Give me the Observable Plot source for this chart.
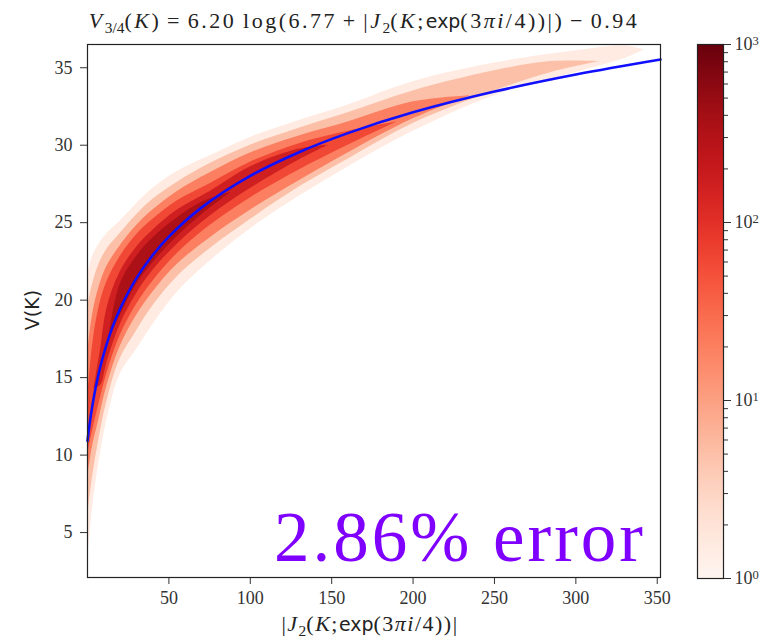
<!DOCTYPE html>
<html>
<head>
<meta charset="utf-8">
<script src="https://cdn.jsdelivr.net/npm/d3@7"></script>
<script src="https://cdn.jsdelivr.net/npm/@observablehq/plot@0.6"></script>
<style>
  html, body { margin: 0; padding: 0; background: white; }
  #wrap { position: relative; width: 761px; height: 641px; overflow: hidden; background: white; }
  #main, #cbar { position: absolute; top: 0; }
  #main { left: 0; }
  #cbar { left: 680px; }
  .lbl { position: absolute; white-space: nowrap; font-family: "Liberation Serif", serif; color: #222; }
  .sub { font-size: 70%; position: relative; top: 0.3em; letter-spacing: 0; }
  .sans { font-family: "DejaVu Sans", sans-serif; font-size: 86%; letter-spacing: 0; }
  .op { margin: 0 0.26em; }
</style>
</head>
<body>
<div id="wrap">
  <div id="main"></div>
  <div id="cbar"></div>
  <div class="lbl" id="title" style="font-size:22px; letter-spacing:2.5px; left:-10px; width:748px; text-align:center; top:8px;">
    <i>V</i><span class="sub">3/4</span>(<i>K</i>)<span class="op">=</span>6.20&thinsp;log(6.77<span class="op">+</span>|<i>J</i><span class="sub">2</span>(<i>K</i>;<span class="sans">exp</span>(3<i>πi</i>/4))|)<span class="op">−</span>0.94
  </div>
  <div class="lbl" id="xlabel" style="font-size:22px; letter-spacing:1.5px; left:-4px; width:748px; text-align:center; top:611px;">
    |<i>J</i><span class="sub">2</span>(<i>K</i>;<span class="sans">exp</span>(3<i>πi</i>/4))|
  </div>
  <div class="lbl" id="ylabel" style="font-family:'DejaVu Sans',sans-serif; font-size:19px; left:32px; top:310px; transform:translate(-50%,-50%) rotate(-90deg);">V(K)</div>
  <div class="lbl" id="err" style="font-size:71px; letter-spacing:3px; color:#7f00ff; right:115px; top:502px; line-height:1;">2.86% error</div>
</div>
<script>
// ---- data ----
const xTicks = [50, 100, 150, 200, 250, 300, 350];
const yTicks = [5, 10, 15, 20, 25, 30, 35];
const cbTicks = [1, 10, 100, 1000];

// fitted curve V(K)
const curveX = [0, 1, 2, 3.5, 5, 7.5, 10, 15, 20, 30, 40, 50, 70, 100, 130, 160, 200, 250, 300, 352];
const curveY = [10.92, 11.77, 12.52, 13.50, 14.35, 15.54, 16.54, 18.16, 19.44, 21.41, 22.90, 24.10, 25.97, 28.02, 29.55, 30.78, 32.12, 33.46, 34.56, 35.53];

// density contour bands: [x, lower V, upper V] for each count level
const levels = [1.5, 5, 20, 60, 160, 350];
const band1 = [[0,3,21.5],[3,6.5,22.8],[7,9.5,23.6],[12,12.3,24.3],[20,15.2,25.1],[30,16.8,26.2],[40,18.4,27.2],[55,20.5,28.3],[75,22.5,29.3],[100,24.6,30.5],[130,26.7,31.6],[160,28.6,32.6],[200,30.9,34.1],[250,33.2,35.3],[300,34.7,36.1],[330,35.6,36.4],[342,36.15,36.15]];
const band3 = [[0,6,19.5],[3,8.5,21],[7,11,22.3],[12,13.5,23.3],[20,16.2,24.3],[30,18,25.5],[40,19.6,26.5],[55,21.5,27.6],[75,23.3,28.8],[100,25.2,30],[130,27.3,31.1],[160,29.1,32.1],[200,31.4,33.5],[250,33.5,34.8],[285,34.7,35.4],[315,35.4,35.4]];
const band10 = [[0,8.5,16.5],[3,10.5,19],[7,12.3,20.8],[12,14.5,22.2],[20,17,23.5],[30,19,24.8],[40,20.5,25.8],[55,22.3,27],[75,24,28.2],[100,25.8,29.5],[130,27.7,30.6],[160,29.5,31.5],[200,31.7,32.8],[235,33.2,33.2]];
const band30 = [[0,10,13.5],[3,11.5,17],[7,13.3,19.5],[12,15.3,21.2],[20,17.7,22.8],[30,19.7,24.2],[40,21.2,25.2],[55,23,26.4],[75,24.8,27.5],[100,26.6,28.9],[130,28.4,30.1],[160,30,30.9],[190,31.5,31.5]];
const band100 = [[4,14.3,14.3],[8,14.5,16.8],[12,16,19.5],[20,18.4,21.8],[30,20.4,23.4],[40,21.9,24.5],[55,23.6,25.8],[75,25.4,27],[100,27.2,28.6],[130,29.05,29.75],[148,30.0,30.0]];
const band250 = [[13,17.5,17.5],[20,19,21],[30,21,22.8],[40,22.4,24],[55,24.1,25.3],[70,25.5,26.3],[88,26.95,26.95]];
const bands = [band1, band3, band10, band30, band100, band250];

const curve = curveX.map((x, i) => ({x, y: curveY[i]}));
const colorOpts = {type: "log", scheme: "reds", domain: [1, 1000]};

const bandMarks = bands.map((b, i) =>
  Plot.areaY(b, {x: d => d[0], y1: d => d[1], y2: d => d[2], fill: () => levels[i], curve: "catmull-rom"})
);

const main = Plot.plot({
  width: 680, height: 641,
  marginLeft: 87, marginRight: 20, marginTop: 44, marginBottom: 64,
  x: {domain: [0, 352], ticks: xTicks, tickSize: 7, tickPadding: 7, label: null},
  y: {domain: [2.1, 36.5], ticks: yTicks, tickSize: 7, tickPadding: 8, label: null},
  color: colorOpts,
  style: {fontFamily: "Liberation Serif, serif", fontSize: "18px", background: "white", color: "#333"},
  marks: [
    ...bandMarks,
    Plot.line(curve, {x: "x", y: "y", stroke: "#1010ff", strokeWidth: 2.6, curve: "catmull-rom"}),
    Plot.frame({stroke: "#222", strokeWidth: 1.2})
  ]
});
document.getElementById("main").appendChild(main);

// colour bar
const cbMinor = [];
for (const dec of [1, 10, 100]) for (let k = 2; k <= 9; k++) cbMinor.push(dec * k);
const stops = d3.range(0, 600).map(i => Math.pow(10, i / 200));
const cbar = Plot.plot({
  width: 81, height: 641,
  marginLeft: 17, marginRight: 38, marginTop: 44, marginBottom: 63,
  x: {domain: [0, 1], axis: null},
  y: {type: "log", domain: [1, 1000]},
  color: colorOpts,
  style: {fontFamily: "Liberation Serif, serif", fontSize: "18px", background: "white", color: "#333"},
  marks: [
    Plot.rect(stops, {x1: 0, x2: 1, y1: d => d, y2: d => Math.min(1000, d * 1.02), fill: d => d * 1.006, shapeRendering: "crispEdges"}),
    Plot.frame({stroke: "#222", strokeWidth: 1.2}),
    Plot.axisY(cbMinor, {anchor: "right", tickSize: 4, tickFormat: () => ""}),
    Plot.axisY(cbTicks, {anchor: "right", tickSize: 7, tickPadding: 4, tickFormat: d => String(Math.round(Math.log10(d)))})
  ]
});
cbar.querySelectorAll('[aria-label="y-axis tick label"] text').forEach(t => {
  const e = t.textContent;
  if (e === "") return;
  t.textContent = "10";
  const ts = document.createElementNS("http://www.w3.org/2000/svg", "tspan");
  ts.setAttribute("dy", "-0.45em");
  ts.setAttribute("font-size", "70%");
  ts.textContent = e;
  t.appendChild(ts);
});
document.getElementById("cbar").appendChild(cbar);
</script>
</body>
</html>
